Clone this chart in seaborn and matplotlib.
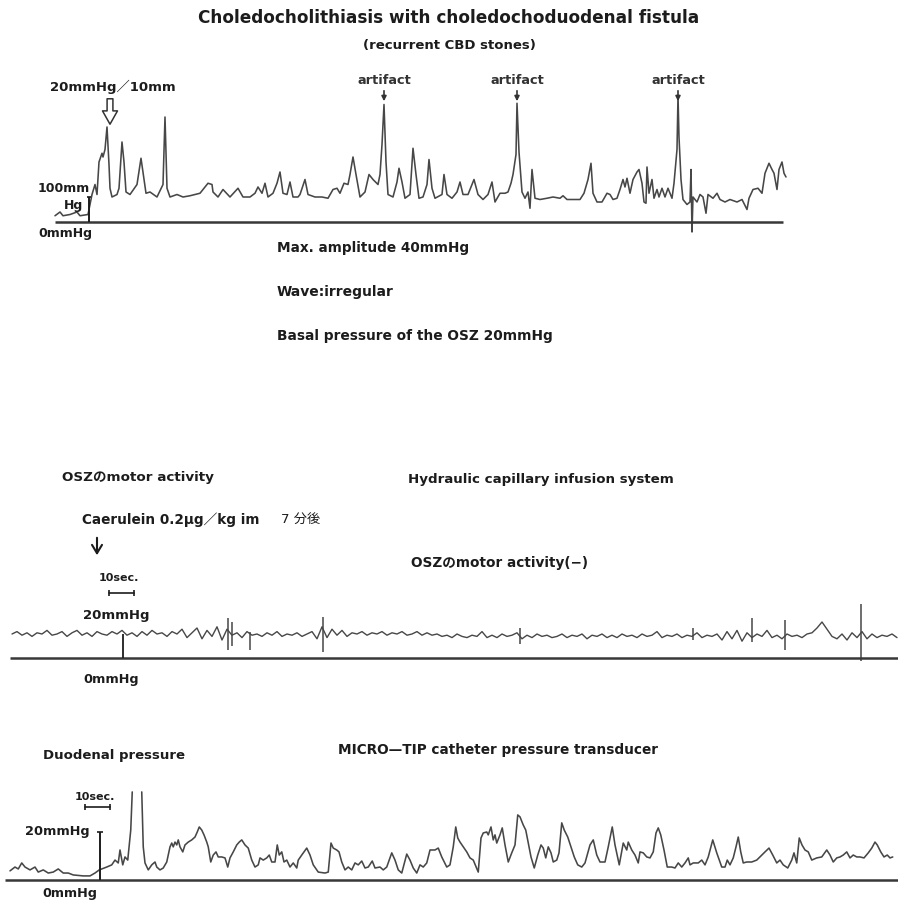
import numpy as np
import pandas as pd
import matplotlib
matplotlib.use("Agg")
import matplotlib.pyplot as plt
import matplotlib.transforms as mtransforms
import seaborn as sns

# ---------------------------------------------------------------------------
# Recording 1: OSZ pressure, choledocholithiasis with fistula
# (time in s, pressure in mmHg)
# ---------------------------------------------------------------------------
bile_trace = [
    (0, 5), (2.5, 8), (4, 5), (7.5, 6), (11, 8), (12.5, 5), (16.5, 6), (17.5, 14),
    (18.5, 22), (20, 30), (21, 22), (22, 48), (23.5, 55), (24, 52), (25, 58), (26, 76),
    (27, 46), (27.5, 27), (28.5, 20), (31, 22), (32, 27), (33.5, 64), (34.5, 48), (35.5, 24),
    (37.5, 22), (41, 30), (43, 51), (44, 40), (45.5, 23), (47.5, 24), (51, 20), (54, 30),
    (55, 84), (56, 27), (57.5, 20), (61, 22), (64, 20), (67.5, 21), (72.5, 23), (74, 26),
    (76.5, 31), (78.5, 30), (79, 24), (81.5, 20), (84, 26), (87.5, 20), (91.5, 27), (94, 20),
    (97.5, 20), (100, 23), (101.5, 28), (103.5, 23), (105, 31), (106.5, 20), (109, 23), (111, 31),
    (112.5, 40), (114, 23), (116, 22), (117.5, 32), (119, 20), (121.5, 20), (122.5, 22), (125, 34),
    (126.5, 22), (130, 20), (133.5, 20), (136.5, 19), (139, 26), (141, 27), (142.5, 23), (144.5, 31),
    (146.5, 30), (147.5, 38), (149, 52), (150.5, 38), (152.5, 20), (155, 24), (157, 38), (159, 34),
    (161.5, 30), (162.5, 38), (163.5, 62), (164.5, 94), (165.5, 48), (166.5, 22), (169, 20), (171, 32),
    (172, 43), (173.5, 32), (175, 19), (177.5, 22), (179, 59), (180.5, 38), (182, 19), (184, 20),
    (186, 30), (187, 50), (188.5, 27), (190, 19), (193.5, 22), (194.5, 38), (196, 22), (198.5, 19),
    (201, 24), (202.5, 32), (204, 22), (206.5, 22), (209.5, 34), (211.5, 22), (214, 18), (216.5, 22),
    (218.5, 32), (220, 16), (222.5, 23), (225, 23), (226.5, 24), (228, 31), (229, 38), (230.5, 54),
    (231, 95), (232, 56), (233.5, 24), (235, 19), (236.5, 24), (237.5, 11), (238.5, 42), (240, 19),
    (242.5, 18), (246, 19), (249, 20), (252.5, 19), (254, 21), (256, 18), (259, 18), (262.5, 18),
    (264.5, 23), (266.5, 34), (268, 47), (269, 23), (271, 16), (273.5, 16), (276, 23), (277.5, 22),
    (279, 18), (281, 19), (282.5, 26), (284, 34), (285, 28), (286, 35), (287.5, 23), (289, 34),
    (291, 40), (292, 42), (293.5, 31), (294.5, 16), (295.5, 15), (296, 44), (297, 23), (298.5, 34),
    (299.5, 19), (301, 26), (302, 20), (303.5, 27), (305, 20), (306.5, 27), (308.5, 19), (309.5, 31),
    (311, 58), (311.5, 101), (312, 68), (313, 34), (314, 18), (316, 14), (317.5, 16), (318, 42),
    (318.5, -8), (319, 20), (321, 16), (322.5, 22), (324, 20), (325.5, 7), (326.5, 22), (329, 19),
    (331, 23), (332.5, 18), (335, 16), (337.5, 18), (341, 16), (343.5, 18), (346, 10), (347, 19),
    (349, 26), (351.5, 27), (353.5, 23), (355, 39), (357, 47), (358.5, 42), (359.5, 39), (361, 26),
    (362, 42), (363.5, 48), (364.5, 39), (365.5, 36),
]
artifact_times = [164.5, 231.0, 311.5]
bile_record_end = 364
max_amplitude = 40
basal_pressure = 20

# ---------------------------------------------------------------------------
# Recording 2: OSZ motor activity after caerulein (infusion catheter)
# pressure sampled every 2 s, plus sharp spike artefacts
# ---------------------------------------------------------------------------
osz_step = 2.0
osz_pressure = [
    20, 22, 19, 21, 18, 21, 20, 23, 19, 20, 22, 18, 21, 23, 19, 21, 18, 22, 20, 19,
    22, 20, 23, 19, 21, 18, 22, 19, 23, 20, 21, 18, 22, 20, 24, 17, 21, 25, 16, 23,
    18, 26, 15, 24, 19, 21, 17, 22, 19, 20, 18, 21, 19, 22, 18, 20, 19, 21, 18, 20,
    22, 16, 26, 17, 24, 19, 23, 18, 21, 20, 22, 19, 21, 20, 22, 19, 21, 20, 22, 19,
    20, 22, 19, 21, 19, 20, 18, 19, 17, 20, 18, 17, 19, 18, 22, 17, 19, 17, 20, 18,
    19, 21, 16, 19, 17, 20, 18, 19, 17, 18, 20, 17, 19, 18, 20, 16, 19, 18, 20, 17,
    19, 17, 20, 18, 19, 17, 20, 18, 19, 22, 17, 19, 18, 20, 17, 19, 18, 21, 17, 19,
    18, 20, 15, 22, 16, 23, 14, 21, 17, 20, 18, 23, 17, 19, 16, 20, 18, 19, 17, 20,
    21, 25, 30, 24, 18, 16, 20, 15, 21, 17, 22, 16, 20, 17, 19, 18, 20, 17,
]
osz_spike_times = [86.4, 88.0, 95.2, 124.4, 203.2, 272.4, 296.0, 309.2, 339.6]
osz_spike_low = [7, 10, 7, 5, 12, 15, 13, 7, -2.5]
osz_spike_high = [33, 30, 22, 34, 25, 25, 33, 32, 45]
osz_record_end = 354.4

# ---------------------------------------------------------------------------
# Recording 3: duodenal pressure (micro-tip transducer)
# ---------------------------------------------------------------------------
duo_trace = [
    (0, 3.8), (2, 5.4), (3.3, 4.6), (4.7, 7.1), (6, 5.4), (8, 4.2), (10, 5.4), (11.3, 3.3),
    (13.3, 4.2), (15.3, 2.9), (17.3, 3.3), (19.3, 4.6), (21.3, 2.9), (23.3, 2.9), (25.3, 2.1), (29.3, 1.7),
    (32, 1.7), (34, 2.9), (35.7, 4.2), (38.7, 5.4), (40.7, 6.3), (42, 8.3), (43.3, 7.1), (44, 12.5),
    (45.1, 6.3), (46, 9.6), (47.1, 8.3), (48.3, 20.8), (48.9, 36.7),
    (52.7, 36.7), (53.3, 13.8), (54, 7.1), (55.3, 4.2), (56.7, 6.3), (58, 7.5), (58.7, 5.4), (60, 4.2),
    (61.3, 5.0), (62.7, 7.5), (64, 13.8), (64.7, 15.4), (65.3, 13.8), (66, 15.8), (66.7, 14.6), (67.3, 16.7),
    (68, 13.8), (69.1, 11.7), (70, 14.6), (71.3, 15.8), (72.7, 16.7), (74, 17.9), (74.9, 20.0), (75.7, 22.1),
    (76.7, 20.8), (77.6, 18.8), (78.7, 15.8), (79.3, 13.8), (80.3, 7.5), (81.3, 10.4), (82.4, 11.7), (83.3, 9.6),
    (84.7, 9.6), (86, 9.2), (87.1, 5.4), (88, 9.2), (89.3, 11.7), (90.7, 14.6), (91.7, 15.8), (92.7, 16.7),
    (94, 14.6), (95.3, 13.3), (96.7, 8.3), (98, 5.4), (99.3, 6.3), (100, 9.2), (101.3, 8.3), (102.7, 9.2),
    (103.7, 10.4), (104.7, 7.5), (106, 7.5), (106.9, 14.6), (107.7, 10.4), (108.7, 11.7), (109.6, 7.5), (110.7, 8.3),
    (112, 5.4), (113.3, 7.1), (114.7, 5.0), (115.3, 8.3), (116.7, 10.4), (118.7, 13.3), (120, 10.4), (121.3, 6.3),
    (123.3, 3.3), (126, 2.9), (127.3, 3.3), (128.4, 15.4), (129.3, 13.3), (130.7, 12.5), (131.6, 11.7), (132.7, 7.5),
    (134, 4.2), (135.3, 5.4), (136.7, 4.2), (138, 7.1), (139.3, 6.3), (140.7, 7.9), (142, 5.0), (143.3, 5.4),
    (144.9, 7.9), (146, 5.0), (148, 5.4), (149.3, 4.2), (150.7, 5.4), (152.7, 11.3), (154, 8.3), (155.3, 4.2),
    (156.7, 2.9), (158.7, 10.8), (160, 8.3), (161.3, 5.0), (162.7, 2.9), (164, 6.3), (165.3, 5.4), (166.7, 7.1),
    (168, 12.5), (170, 12.5), (171.3, 13.3), (172.7, 9.6), (174.7, 5.4), (176, 6.3), (177.3, 13.8), (178.3, 22.1),
    (179.1, 17.5), (180, 15.8), (181.3, 13.8), (182.7, 11.7), (184, 9.2), (185.3, 8.3), (187.3, 3.3), (188.4, 17.5),
    (189.3, 19.6), (190.7, 20.0), (191.3, 18.8), (192.4, 22.1), (193.3, 16.7), (194, 18.8), (194.7, 15.4), (196, 18.8),
    (196.9, 21.7), (198, 14.6), (199.3, 7.5), (200.7, 11.3), (202, 14.6), (203.1, 27.1), (204, 26.3), (205.3, 22.9),
    (206.3, 20.8), (207.3, 15.4), (208.4, 9.6), (209.7, 5.0), (211.1, 10.4), (212.4, 14.6), (213.3, 13.3), (214.3, 9.2),
    (215.3, 13.8), (216.4, 11.3), (217.3, 7.5), (218.7, 8.3), (219.6, 11.3), (220.7, 23.8), (221.7, 20.8), (223.1, 17.9),
    (224.4, 13.8), (225.7, 9.6), (227.1, 6.3), (228.7, 5.4), (230, 7.1), (232, 14.6), (233.3, 16.7), (234.7, 10.4),
    (236, 7.5), (238, 7.5), (239.3, 13.8), (240.9, 22.1), (242, 14.6), (243.7, 6.3), (245.3, 15.4), (246.7, 12.5),
    (247.3, 15.8), (248.7, 12.5), (250, 10.4), (251.3, 7.1), (252, 11.7), (253.3, 11.3), (254.7, 9.6), (256, 9.2),
    (257.3, 11.7), (258.4, 19.6), (259.3, 21.7), (260.3, 18.8), (261.6, 12.5), (262.9, 5.4), (264.7, 5.4), (266, 5.0),
    (267.3, 7.1), (268.7, 5.4), (270, 7.1), (271.3, 9.2), (272, 6.3), (273.3, 7.1), (275.3, 7.1), (276.7, 8.3),
    (278, 6.3), (279.3, 9.6), (281.1, 16.7), (282.7, 11.3), (284.7, 5.4), (286, 5.4), (286.9, 8.3), (288, 6.3),
    (289.3, 9.2), (290.4, 13.8), (291.3, 17.9), (292.3, 11.7), (293.3, 7.1), (294.7, 7.5), (296.7, 7.5), (298.7, 8.3),
    (300.7, 10.4), (302, 11.7), (303.6, 13.3), (305.1, 10.4), (306.7, 7.1), (308, 8.3), (309.3, 6.3), (311.1, 5.0),
    (312.7, 8.3), (313.6, 11.3), (314.7, 7.1), (315.7, 17.5), (316.8, 14.6), (318, 12.5), (319.3, 11.7), (320.7, 8.3),
    (322.7, 9.2), (324.7, 9.6), (326.7, 12.5), (328, 10.4), (329.3, 7.5), (330.7, 9.2), (332, 9.6), (333.3, 10.4),
    (334.7, 11.7), (336, 9.2), (337.3, 10.4), (338.7, 9.6), (340, 9.6), (341.6, 9.2), (343.3, 11.3), (344.7, 13.3),
    (346, 15.8), (346.9, 14.6), (348.3, 11.7), (349.6, 9.6), (350.9, 10.4), (352, 9.2), (353.1, 9.6),
]
duo_offscale = (48.9, 52.7)   # pen beyond chart edge
duo_record_end = 355.2

cal_pressure = 20   # calibration bar, mmHg
cal_time = 10       # time bar, s

# ---------------------------------------------------------------------------
sns.set_style("white")
plt.rcParams["font.family"] = ["DejaVu Sans", "Noto Sans CJK JP"]

W, H = 898, 902
fig = plt.figure(figsize=(W / 100, H / 100), dpi=100)
fig.patch.set_facecolor("white")
px = mtransforms.Affine2D().scale(1 / W, -1 / H).translate(0, 1) + fig.transFigure

INK = "#1c1c1c"
PEN = "#474747"
RULE = "#383838"


def panel(top, bottom, xlim, ylim):
    ax = fig.add_axes([0, 1 - bottom / H, 1, (bottom - top) / H])
    ax.set_xlim(*xlim)
    ax.set_ylim(*ylim)
    ax.axis("off")
    return ax


def put(x, y, s, size=10, ha="left", weight="bold", **kw):
    fig.text(x, y, s, transform=px, ha=ha, va="center", fontsize=size,
             fontweight=weight, color=INK, **kw)


# ---- panel 1 --------------------------------------------------------------
ax1 = panel(60, 240, (-27.5, 421.5), (-14.4, 129.6))
bile = pd.DataFrame(bile_trace, columns=["t", "p"])
sns.lineplot(data=bile, x="t", y="p", ax=ax1, color=PEN, lw=1.15,
             estimator=None, sort=False)
ax1.hlines(0, 0, bile_record_end, color=RULE, lw=1.8)
ax1.vlines(17, 0, cal_pressure, color=INK, lw=1.4)
ax1.hlines(cal_pressure, 15.8, 18.2, color=INK, lw=1.2)

art = mtransforms.blended_transform_factory(ax1.transData, px)
for t in artifact_times:
    ax1.text(t, 81, "artifact", transform=art, ha="center", va="center",
             fontsize=9.3, fontweight="bold", color="#333333")
    ax1.annotate("", xy=(t, 104), xytext=(t, 88), xycoords=art, textcoords=art,
                 arrowprops=dict(arrowstyle="-|>", color="#333333", lw=1.2,
                                 mutation_scale=7))
ax1.annotate("", xy=(110, 127), xytext=(110, 96), xycoords=px, textcoords=px,
             arrowprops=dict(arrowstyle="simple,head_length=0.8,head_width=0.9,tail_width=0.35",
                             fc="white", ec="#333333", lw=1.1, mutation_scale=12))

put(449, 18, "Choledocholithiasis with choledochoduodenal fistula", 12.2, "center")
put(449, 45, "(recurrent CBD stones)", 9.5, "center")
put(50, 87, "20mmHg／10mm", 9.5)
put(90, 188, "100mm", 9, "right")
put(83, 205, "Hg", 9, "right")
put(38, 234, "0mmHg", 9)
put(277, 248, f"Max. amplitude {max_amplitude}mmHg", 9.8)
put(277, 292, "Wave:irregular", 10)
put(277, 336, f"Basal pressure of the OSZ {basal_pressure}mmHg", 9.9)

# ---- panel 2 --------------------------------------------------------------
ax2 = panel(590, 690, (-4.8, 354.4), (-26.67, 56.67))
osz = pd.DataFrame({"t": np.arange(len(osz_pressure)) * osz_step, "p": osz_pressure})
sns.lineplot(data=osz, x="t", y="p", ax=ax2, color=PEN, lw=1.0,
             estimator=None, sort=False)
ax2.vlines(osz_spike_times, osz_spike_low, osz_spike_high, color=PEN, lw=1.1)
ax2.hlines(0, -0.8, osz_record_end, color=RULE, lw=1.8)
ax2.vlines(44.4, 0, cal_pressure, color=INK, lw=1.3)
ax2.plot([38.8, 38.8 + cal_time], [54.2, 54.2], color=INK, lw=1.2,
         marker="|", ms=5, mew=1.2)

put(62, 478, "OSZのmotor activity", 9.7)
put(408, 479, "Hydraulic capillary infusion system", 9.6)
put(82, 520, "Caerulein 0.2μg／kg im", 9.8)
put(281, 520, "7 分後", 9.5, weight="normal")
put(411, 563, "OSZのmotor activity(−)", 9.8)
put(119, 578, "10sec.", 8, "center")
put(83, 615, "20mmHg", 9.5)
put(83, 680, "0mmHg", 9.3)
ax2.annotate("", xy=(97, 558), xytext=(97, 535), xycoords=px, textcoords=px,
             arrowprops=dict(arrowstyle="->,head_length=0.5,head_width=0.3",
                             color=INK, lw=1.5, mutation_scale=12))

# ---- panel 3 --------------------------------------------------------------
ax3 = panel(770, 902, (-4, 355.2), (-9.17, 45.83))
duo = pd.DataFrame(duo_trace, columns=["t", "p"])
duo["seg"] = (duo["t"] >= duo_offscale[1]).astype(int)
sns.lineplot(data=duo, x="t", y="p", units="seg", ax=ax3, color=PEN, lw=1.15,
             estimator=None, sort=False)
ax3.hlines(0, -2, duo_record_end, color=RULE, lw=1.8)
ax3.vlines(36, 0, cal_pressure, color=INK, lw=1.4)
ax3.hlines(cal_pressure, 34.8, 37.2, color=INK, lw=1.2)
ax3.plot([30, 30 + cal_time], [30.4, 30.4], color=INK, lw=1.2,
         marker="|", ms=4, mew=1.2)

put(43, 755, "Duodenal pressure", 9.5)
put(338, 750, "MICRO—TIP catheter pressure transducer", 9.8)
put(95, 797, "10sec.", 8, "center")
put(25, 832, "20mmHg", 9.3)
put(42, 893, "0mmHg", 9.2)

fig.savefig("out.png", dpi=100, facecolor="white")
